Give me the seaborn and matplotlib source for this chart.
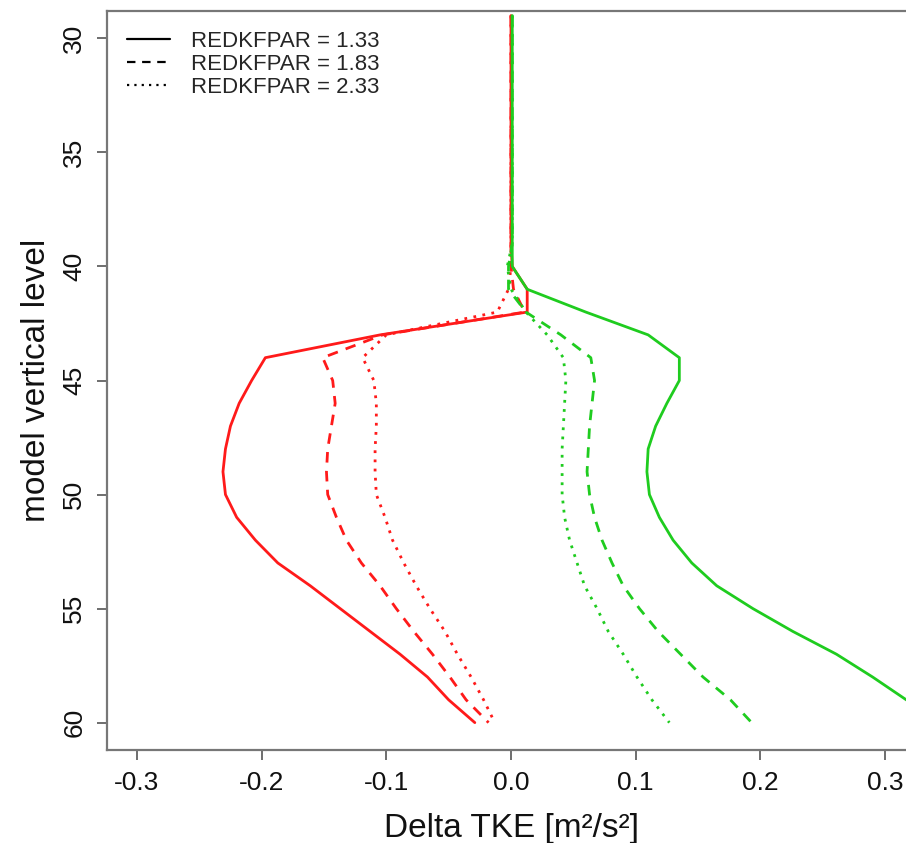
import matplotlib
matplotlib.use("Agg")
import matplotlib.pyplot as plt
import numpy as np
import pandas as pd
import seaborn as sns
from matplotlib.lines import Line2D
from matplotlib.ticker import FormatStrFormatter

# model levels 29..60
levels = list(range(29, 61))

# delta TKE, red runs
red_133 = [0.0] * 11 + [0.001, 0.013, 0.013, -0.105, -0.197, -0.208, -0.218, -0.225, -0.229, -0.231,
                        -0.229, -0.220, -0.205, -0.187, -0.161, -0.137, -0.113, -0.089, -0.067, -0.050, -0.029]
red_183 = [0.0] * 11 + [0.0, 0.002, 0.011, -0.103, -0.151, -0.143, -0.141, -0.144, -0.147, -0.148,
                        -0.147, -0.140, -0.132, -0.120, -0.105, -0.092, -0.078, -0.063, -0.049, -0.036, -0.018]
red_233 = [0.0] * 11 + [0.0, -0.002, -0.011, -0.100, -0.119, -0.110, -0.108, -0.108, -0.109, -0.109,
                        -0.108, -0.101, -0.095, -0.086, -0.076, -0.065, -0.053, -0.043, -0.032, -0.022, -0.013]

# delta TKE, green runs
green_133 = [0.001] * 11 + [0.001, 0.013, 0.060, 0.110, 0.135, 0.135, 0.125, 0.116, 0.110, 0.109,
                            0.111, 0.119, 0.130, 0.145, 0.165, 0.194, 0.226, 0.261, 0.290, 0.317, 0.345]
green_183 = [0.001] * 11 + [-0.002, -0.002, 0.012, 0.040, 0.064, 0.067, 0.065, 0.063, 0.062, 0.061,
                            0.063, 0.067, 0.073, 0.081, 0.090, 0.103, 0.118, 0.136, 0.154, 0.176, 0.193]
green_233 = [0.001] * 11 + [-0.003, 0.0, 0.012, 0.029, 0.042, 0.044, 0.043, 0.042, 0.041, 0.041,
                            0.041, 0.043, 0.047, 0.053, 0.059, 0.069, 0.078, 0.090, 0.101, 0.113, 0.127]

params = ["1.33", "1.83", "2.33"]
red_runs = [red_133, red_183, red_233]
green_runs = [green_133, green_183, green_233]

dash_styles = {"1.33": None, "1.83": (3.8, 3.0), "2.33": (1.0, 2.3)}
RED = "#ff1a1a"
GREEN = "#1fcc1f"

sns.set_style("ticks")
plt.rcParams["font.family"] = ["Liberation Sans", "DejaVu Sans"]
plt.rcParams["axes.unicode_minus"] = False

fig = plt.figure(figsize=(9.06, 8.43), dpi=100)
ax = fig.add_axes([107 / 906, 1 - 750 / 843, 808 / 906, 739 / 843])

for color, runs in [(RED, red_runs), (GREEN, green_runs)]:
    for p, vals in zip(params, runs):
        df = pd.DataFrame({"level": levels, "dtke": vals})
        sns.lineplot(data=df, x="dtke", y="level", sort=False, orient="y",
                     color=color, lw=2.0, ax=ax, legend=False)
        if dash_styles[p] is not None:
            ax.lines[-1].set_dashes(dash_styles[p])

ax.set_xlim(-0.324, 0.324)
ax.set_ylim(61.2, 28.8)
ax.set_xticks([-0.3, -0.2, -0.1, 0.0, 0.1, 0.2, 0.3])
ax.xaxis.set_major_formatter(FormatStrFormatter("%.1f"))
ax.set_yticks([30, 35, 40, 45, 50, 55, 60])
for lab in ax.get_yticklabels():
    lab.set_rotation(90)
    lab.set_va("center")

ax.tick_params(axis="both", labelsize=19, length=7, width=1.2, color="#555555",
               labelcolor="#111111", pad=8)
for s in ax.spines.values():
    s.set_color("#777777")
    s.set_linewidth(1.6)

ax.set_xlabel("Delta TKE [m²/s²]", fontsize=24, labelpad=13, color="#111111")
ax.set_ylabel("model vertical level", fontsize=24, labelpad=7, color="#111111")

handles = []
for p in params:
    h = Line2D([0], [0], color="black", lw=1.6)
    if dash_styles[p] is not None:
        h.set_dashes(dash_styles[p])
    handles.append(h)
ax.legend(handles, [f"REDKFPAR = {p}" for p in params], loc="upper left",
          bbox_to_anchor=(0.0, 1.0), frameon=False, fontsize=16,
          handlelength=1.95, handletextpad=0.95, labelspacing=0.08, borderaxespad=0.5)

fig.savefig("out.png", dpi=100)
